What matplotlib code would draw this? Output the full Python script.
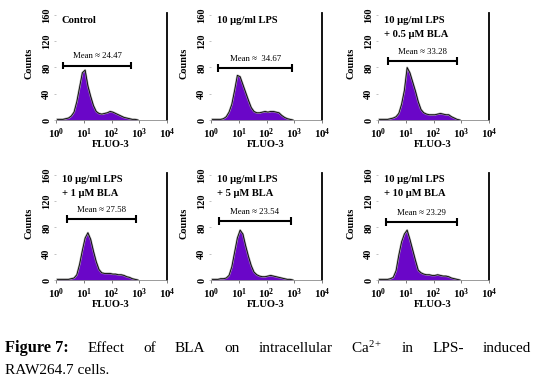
"""
FLUO-3 flow cytometry histograms: effect of BLA on intracellular Ca2+
in LPS-induced RAW264.7 cells. Six panels plus a justified caption.
"""
import numpy as np
import matplotlib
matplotlib.use("Agg")
import matplotlib.pyplot as plt
from matplotlib.ticker import FixedLocator, LogLocator, NullFormatter

plt.rcParams["font.family"] = ["Liberation Serif", "DejaVu Serif"]
plt.rcParams["mathtext.fontset"] = "custom"
plt.rcParams["mathtext.rm"] = "Liberation Serif"
plt.rcParams["mathtext.bf"] = "Liberation Serif:bold"
plt.rcParams["mathtext.it"] = "Liberation Serif:italic"

# --- data -----------------------------------------------------------------
# histogram channels: 0.1 decade each, centres from 10^0.05 to 10^2.95
bin_centres_log = np.round(np.arange(0.05, 3.0, 0.1), 2)

titles = [
    "Control",
    "10 μg/ml LPS",
    "10 μg/ml LPS\n+ 0.5 μM BLA",
    "10 μg/ml LPS\n+ 1 μM BLA",
    "10 μg/ml LPS\n+ 5 μM BLA",
    "10 μg/ml LPS\n+ 10 μM BLA",
]

counts_control = [1, 1, 1, 2, 3, 6, 12, 28, 50, 72, 76, 52, 36, 22, 13,
                  10, 9, 10, 11, 13, 12, 10, 8, 6, 4, 3, 2, 1, 1, 0]
counts_lps = [1, 1, 1, 1, 2, 5, 12, 24, 45, 68, 66, 54, 42, 30, 19,
              13, 11, 11, 12, 13, 12, 13, 13, 12, 11, 7, 4, 2, 1, 0]
counts_bla05 = [1, 1, 1, 1, 2, 3, 5, 10, 24, 45, 80, 72, 58, 44, 28,
                16, 11, 9, 8, 8, 8, 9, 10, 9, 8, 8, 5, 3, 1, 0]
counts_bla1 = [1, 1, 1, 1, 1, 2, 3, 8, 24, 45, 64, 72, 62, 44, 28,
               16, 11, 10, 10, 10, 9, 9, 8, 8, 7, 5, 4, 2, 1, 0]
counts_bla5 = [1, 1, 1, 2, 2, 3, 7, 20, 42, 64, 76, 70, 52, 36, 22,
               12, 8, 6, 5, 5, 6, 7, 6, 5, 4, 3, 2, 1, 1, 0]
counts_bla10 = [1, 1, 1, 1, 2, 4, 14, 38, 58, 70, 76, 62, 46, 30, 15,
                11, 9, 8, 8, 7, 7, 8, 7, 6, 6, 5, 3, 2, 1, 0]
all_counts = [counts_control, counts_lps, counts_bla05,
              counts_bla1, counts_bla5, counts_bla10]

# gate marker ("Mean" bar): left / right fluorescence and height in counts
mean_labels = ["Mean ≈ 24.47", "Mean ≈  34.67", "Mean ≈ 33.28",
               "Mean ≈ 27.58", "Mean ≈ 23.54", "Mean ≈ 23.29"]
mean_lo = [1.86, 1.86, 2.34, 2.5, 1.95, 1.95]
mean_hi = [525, 813, 708, 794, 741, 692]
mean_y = [83, 79, 90, 93, 90, 88]

y_ticks = [0, 40, 80, 120, 160]
x_ticks = [1, 10, 100, 1000, 10000]
x_tick_labels = [r"$\mathbf{10^{%d}}$" % i for i in range(5)]

# --- layout ---------------------------------------------------------------
W, H = 536, 385
fig = plt.figure(figsize=(W / 100, H / 100), dpi=100)

col_left = [56, 211, 378]
row_top = [13, 173]
ax_w, ax_h = 111, 107
fill_color = "#6a06c8"

for i, counts in enumerate(all_counts):
    r, c = divmod(i, 3)
    left = col_left[c] / W
    bottom = 1 - (row_top[r] + ax_h) / H
    ax = fig.add_axes([left, bottom, ax_w / W, ax_h / H])

    xs = 10 ** bin_centres_log
    ax.fill_between(xs, counts, 0, color=fill_color, lw=0)
    ax.plot(xs, counts, color="#a0a0a0", lw=1.5, alpha=0.8)
    ax.plot(xs, counts, color="black", lw=0.6)

    ax.set_xscale("log")
    ax.set_xlim(1, 10000)
    ax.set_ylim(0, 163)

    # gate bar with end caps
    ax.hlines(mean_y[i], mean_lo[i], mean_hi[i], color="black", lw=1.5)
    ax.vlines([mean_lo[i], mean_hi[i]], mean_y[i] - 6, mean_y[i] + 6,
              color="black", lw=1.5)
    ax.text(np.sqrt(mean_lo[i] * mean_hi[i]), mean_y[i] + 8, mean_labels[i],
            ha="center", va="bottom", fontsize=6.3)

    ax.text(0.05, 0.975 if r == 0 else 0.985, titles[i], transform=ax.transAxes,
            ha="left", va="top", fontsize=7.6, fontweight="bold",
            linespacing=1.75)

    for side in ("left", "top"):
        ax.spines[side].set_visible(False)
    ax.spines["right"].set_linewidth(1.3)
    ax.spines["bottom"].set_color("#8a8a8a")
    ax.spines["bottom"].set_linewidth(0.6)

    ax.xaxis.set_major_locator(FixedLocator(x_ticks))
    ax.xaxis.set_minor_locator(LogLocator(base=10, subs=np.arange(2, 10)))
    ax.xaxis.set_minor_formatter(NullFormatter())
    ax.set_xticklabels(x_tick_labels, fontsize=7.8)
    ax.tick_params(axis="x", which="major", length=2.5, width=0.6,
                   color="#666666", pad=2)
    ax.tick_params(axis="x", which="minor", length=1.5, width=0.5,
                   color="#888888")

    ax.set_yticks(y_ticks)
    ax.set_yticklabels([str(v) for v in y_ticks], rotation=90, va="center",
                       fontsize=7.5, fontweight="bold")
    ax.tick_params(axis="y", length=1.5, width=0.5, color="#aaaaaa", pad=2)

    ax.set_xlabel("FLUO-3", fontsize=7.6, fontweight="bold")
    ax.xaxis.set_label_coords(0.49, -0.185)
    ax.set_ylabel("Counts", fontsize=7.4, fontweight="bold")
    ax.yaxis.set_label_coords(-0.2, 0.53)

# --- caption (line 1 justified across the width) ---------------------------
cap_size = 11
renderer = fig.canvas.get_renderer()
words = [("Figure 7:", "bold"), ("Effect", "normal"), ("of", "normal"),
         ("BLA", "normal"), ("on", "normal"), ("intracellular", "normal"),
         ("Ca$^{2+}$", "normal"), ("in", "normal"), ("LPS-", "normal"),
         ("induced", "normal")]
y1 = 1 - 348 / H
texts = [fig.text(0, y1, w, fontsize=cap_size + (0.8 if fw == "bold" else 0),
                  fontweight=fw, va="center", ha="left") for w, fw in words]
widths = [t.get_window_extent(renderer).width for t in texts]
x0, x1 = 5, 531
gap = (x1 - x0 - sum(widths)) / (len(words) - 1)
x = x0
for t, w in zip(texts, widths):
    t.set_x(x / W)
    x += w + gap

fig.text(x0 / W, 1 - 371 / H, "RAW264.7 cells.", fontsize=cap_size,
         va="center", ha="left")

fig.savefig("out.png", dpi=100)
